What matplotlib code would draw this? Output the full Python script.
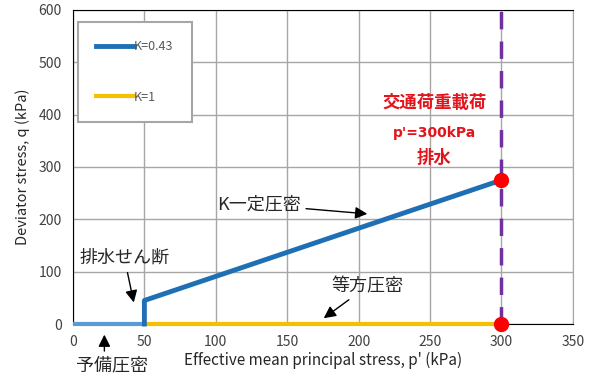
import matplotlib.pyplot as plt

plt.rcParams['font.family'] = ['Noto Sans CJK JP', 'DejaVu Sans']

# stress paths
pre_p = [0, 50]
pre_q = [0, 0]
k043_p = [50, 50, 300]
k043_q = [0, 45, 275]
k1_p = [50, 300]
k1_q = [0, 0]
load_p = 300
end_p = [300, 300]
end_q = [0, 275]

fig = plt.figure(figsize=(5.98, 3.83), dpi=100)
ax = fig.add_axes([0.122, 0.154, 0.836, 0.82])

ax.plot(pre_p, pre_q, color='#5b9bd5', lw=3, solid_capstyle='butt', zorder=3, clip_on=False)
ax.plot(k1_p, k1_q, color='#f5c000', lw=3, label='K=1', zorder=3, clip_on=False)
ax.plot(k043_p, k043_q, color='#1f6fb5', lw=3.5, label='K=0.43', zorder=4, clip_on=False)
ax.axvline(load_p, color='#7030a0', lw=2.5, ls=(0, (5, 3.5)), zorder=2)
ax.plot(end_p, end_q, 'o', color='#ff0000', ms=10, zorder=5, clip_on=False)

ax.set_xlim(0, 350)
ax.set_ylim(0, 600)
ax.set_xticks(range(0, 351, 50))
ax.set_yticks(range(0, 601, 100))
ax.grid(color='#a6a6a6', lw=1)
ax.set_axisbelow(True)
for s in ['left', 'bottom', 'top']:
    ax.spines[s].set_color('black')
ax.spines['right'].set_color('#a6a6a6')
ax.tick_params(length=0, labelsize=10, colors='#404040', pad=8)

ax.set_xlabel("Effective mean principal stress, p' (kPa)", fontsize=11, color='#262626', labelpad=2)
ax.set_ylabel('Deviator stress, q (kPa)', fontsize=10.5, color='#262626', labelpad=6)

h, l = ax.get_legend_handles_labels()
leg = ax.legend(h[::-1], l[::-1], loc='upper left', bbox_to_anchor=(0.01, 0.962),
                fancybox=False, edgecolor='#a6a6a6', framealpha=1, fontsize=9,
                handlelength=3, handletextpad=0.05, labelspacing=3.0,
                borderpad=1.45, borderaxespad=0, labelcolor='#595959')
leg.get_frame().set_linewidth(1.5)

ann = dict(arrowstyle='-|>', color='black', lw=1, mutation_scale=18)
ax.annotate('排水せん断', xy=(43, 36), xytext=(36, 126), ha='center', va='center',
            fontsize=13, color='#262626', arrowprops=ann)
ax.annotate('K一定圧密', xy=(208, 210), xytext=(130, 228), ha='center', va='center',
            fontsize=13, color='#262626', arrowprops=ann)
ax.annotate('等方圧密', xy=(174, 8), xytext=(206, 72), ha='center', va='center',
            fontsize=13, color='#262626', arrowprops=ann)
ax.annotate('', xy=(22, -15), xytext=(22, -57), annotation_clip=False, arrowprops=ann)
ax.text(27, -80, '予備圧密', ha='center', va='center', fontsize=13, color='#262626')

ax.text(253, 422, '交通荷重載荷', ha='center', va='center', fontsize=12.5,
        color='#e3141b', fontweight='bold')
ax.text(253, 365, "p'=300kPa", ha='center', va='center', fontsize=10,
        color='#e3141b', fontweight='bold', family=['DejaVu Sans'])
ax.text(253, 317, '排水', ha='center', va='center', fontsize=12.5,
        color='#e3141b', fontweight='bold')

fig.savefig('out.png', dpi=100)
